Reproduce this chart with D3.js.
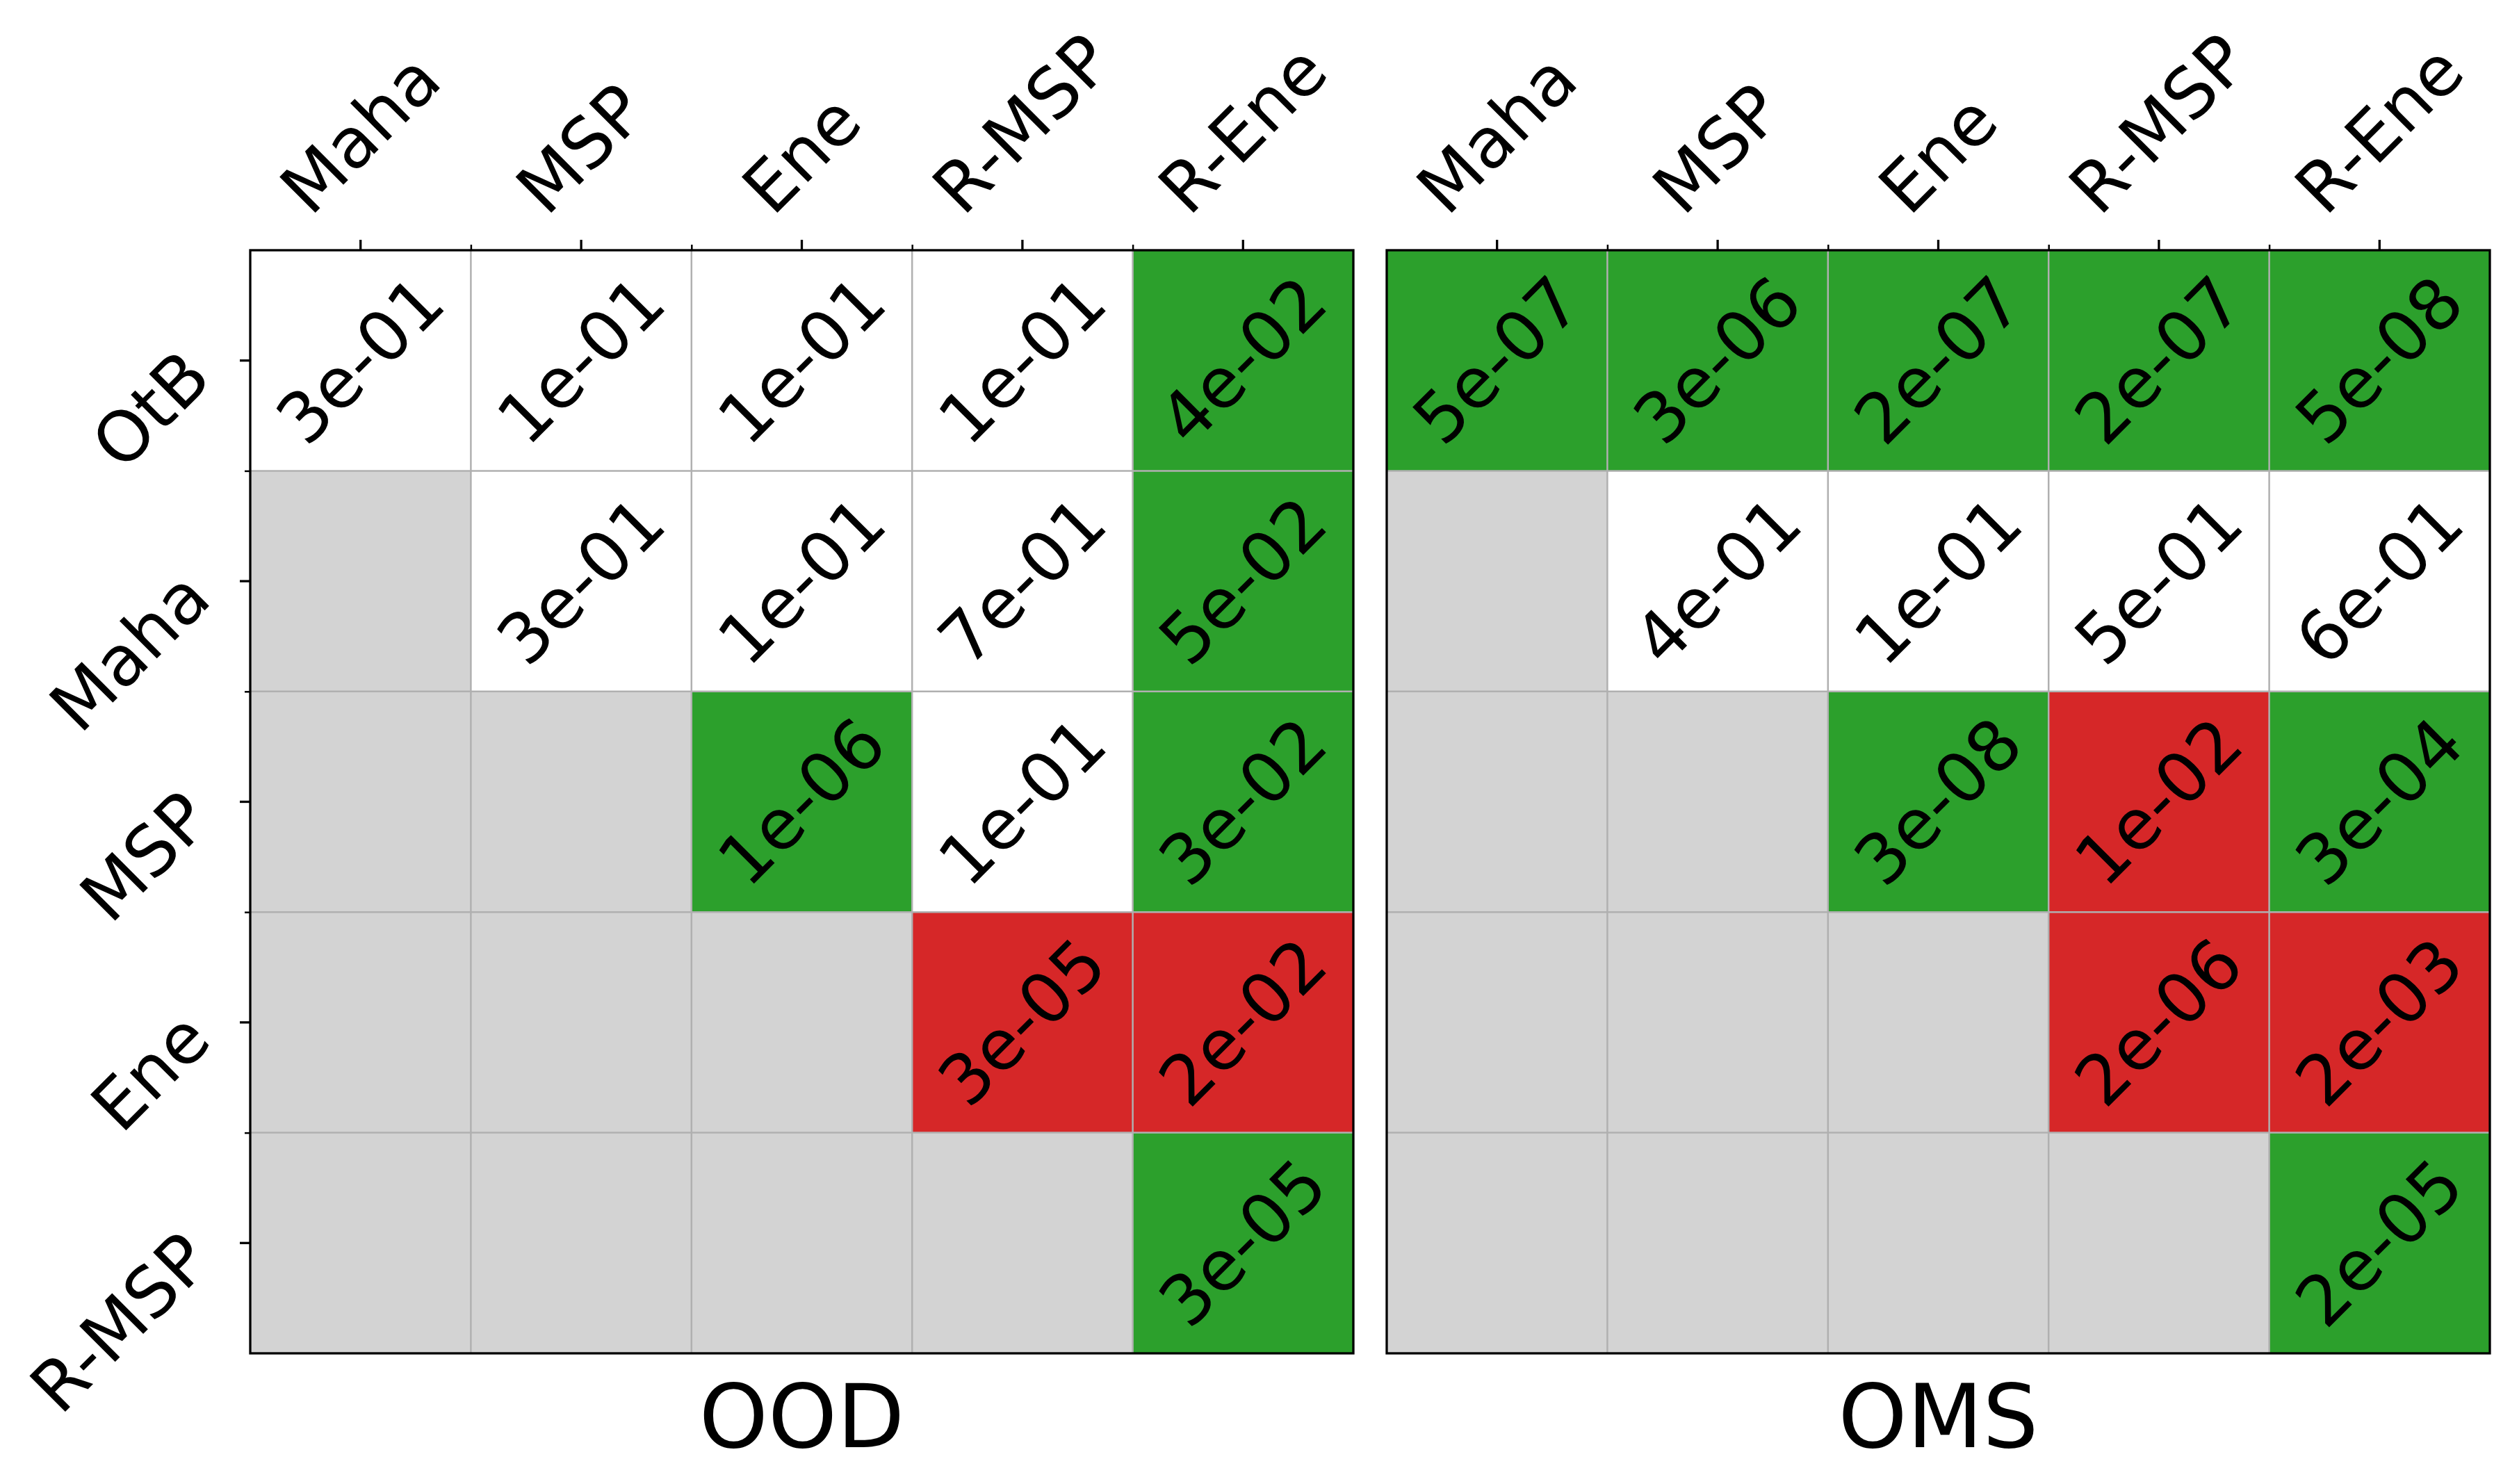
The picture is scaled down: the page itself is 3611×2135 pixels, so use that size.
<!DOCTYPE html>
<html>
<head>
<meta charset="utf-8">
<script src="https://cdn.jsdelivr.net/npm/d3@7"></script>
<style>
  html, body { margin: 0; padding: 0; background: #ffffff; }
  svg { display: block; }
  text { font-family: "DejaVu Sans", sans-serif; fill: #000; }
</style>
</head>
<body>
<svg id="chart" width="3611" height="2135"></svg>
<script>
// ---------------- data ----------------
const rowLabels = ["OtB", "Maha", "MSP", "Ene", "R-MSP"];
const colLabels = ["Maha", "MSP", "Ene", "R-MSP", "R-Ene"];
const panelTitles = ["OOD", "OMS"];

// p-values as shown (null = lower triangle, not tested)
const oodValues = [
  ["3e-01", "1e-01", "1e-01", "1e-01", "4e-02"],
  [null,    "3e-01", "1e-01", "7e-01", "5e-02"],
  [null,    null,    "1e-06", "1e-01", "3e-02"],
  [null,    null,    null,    "3e-05", "2e-02"],
  [null,    null,    null,    null,    "3e-05"]
];
// 1 = significant, column better (green); -1 = significant, row better (red); 0 = not significant
const oodSigns = [
  [0, 0, 0, 0, 1],
  [null, 0, 0, 0, 1],
  [null, null, 1, 0, 1],
  [null, null, null, -1, -1],
  [null, null, null, null, 1]
];
const omsValues = [
  ["5e-07", "3e-06", "2e-07", "2e-07", "5e-08"],
  [null,    "4e-01", "1e-01", "5e-01", "6e-01"],
  [null,    null,    "3e-08", "1e-02", "3e-04"],
  [null,    null,    null,    "2e-06", "2e-03"],
  [null,    null,    null,    null,    "2e-05"]
];
const omsSigns = [
  [1, 1, 1, 1, 1],
  [null, 0, 0, 0, 0],
  [null, null, 1, -1, 1],
  [null, null, null, -1, -1],
  [null, null, null, null, 1]
];

// ---------------- layout ----------------
const svg = d3.select("#chart");
const panelTop = 360, panelSize = 1587;
const panelLefts = [360, 1995];
const colorFor = s => s === null ? "#d3d3d3" : (s === 1 ? "#2ca02c" : (s === -1 ? "#d62728" : "#ffffff"));
const tickFont = 100, annFont = 100, titleFont = 126;

const panels = [
  { title: panelTitles[0], values: oodValues, signs: oodSigns, x0: panelLefts[0], showY: true },
  { title: panelTitles[1], values: omsValues, signs: omsSigns, x0: panelLefts[1], showY: false }
];

panels.forEach(p => {
  const x = d3.scaleBand().domain(colLabels).range([p.x0, p.x0 + panelSize]).padding(0);
  const y = d3.scaleBand().domain(rowLabels).range([panelTop, panelTop + panelSize]).padding(0);
  const xb = d3.scaleLinear().domain([0, colLabels.length]).range([p.x0, p.x0 + panelSize]);
  const yb = d3.scaleLinear().domain([0, rowLabels.length]).range([panelTop, panelTop + panelSize]);
  const g = svg.append("g");

  // cells
  const cells = [];
  rowLabels.forEach((r, i) => colLabels.forEach((c, j) => {
    cells.push({ r, c, v: p.values[i][j], s: p.signs[i][j] });
  }));
  g.selectAll("rect.cell").data(cells).join("rect")
    .attr("class", "cell")
    .attr("x", d => x(d.c)).attr("y", d => y(d.r))
    .attr("width", x.bandwidth()).attr("height", y.bandwidth())
    .attr("fill", d => colorFor(d.s));

  // grid lines at cell boundaries
  const innerX = d3.range(1, colLabels.length);
  const innerY = d3.range(1, rowLabels.length);
  g.selectAll("line.vg").data(innerX).join("line")
    .attr("x1", d => xb(d)).attr("x2", d => xb(d))
    .attr("y1", panelTop).attr("y2", panelTop + panelSize)
    .attr("stroke", "#b0b0b0").attr("stroke-width", 2.5);
  g.selectAll("line.hg").data(innerY).join("line")
    .attr("y1", d => yb(d)).attr("y2", d => yb(d))
    .attr("x1", p.x0).attr("x2", p.x0 + panelSize)
    .attr("stroke", "#b0b0b0").attr("stroke-width", 2.5);

  // annotations
  g.selectAll("text.ann").data(cells.filter(d => d.v !== null)).join("text")
    .attr("class", "ann")
    .attr("font-size", annFont)
    .attr("text-anchor", "middle")
    .attr("dominant-baseline", "central")
    .attr("transform", d => `translate(${x(d.c) + x.bandwidth() / 2},${y(d.r) + y.bandwidth() / 2}) rotate(-45)`)
    .text(d => d.v);

  // major top ticks (cell centres)
  const topAxis = d3.axisTop(x).tickSize(15).tickFormat("").tickSizeOuter(0);
  const ta = g.append("g").attr("transform", `translate(0,${panelTop})`).call(topAxis);
  ta.select(".domain").remove();
  ta.selectAll("line").attr("stroke", "#000").attr("stroke-width", 3.3);
  // minor top ticks (inner cell boundaries)
  const topMinor = d3.axisTop(xb).tickValues(innerX).tickSize(8).tickFormat("");
  const tm = g.append("g").attr("transform", `translate(0,${panelTop})`).call(topMinor);
  tm.select(".domain").remove();
  tm.selectAll("line").attr("stroke", "#000").attr("stroke-width", 2.5);

  // x tick labels, rotated 45°, bbox centred on the tick
  colLabels.forEach(c => {
    const t = g.append("text")
      .attr("font-size", tickFont)
      .attr("text-anchor", "middle")
      .attr("dominant-baseline", "central")
      .text(c);
    const bb = t.node().getBBox();
    const rh = (bb.width + bb.height) * Math.SQRT1_2;
    const cx = x(c) + x.bandwidth() / 2;
    const cy = panelTop - 30 - rh / 2;
    t.attr("transform", `translate(${cx},${cy}) rotate(-45)`);
  });

  if (p.showY) {
    const leftAxis = d3.axisLeft(y).tickSize(15).tickFormat("").tickSizeOuter(0);
    const la = g.append("g").attr("transform", `translate(${p.x0},0)`).call(leftAxis);
    la.select(".domain").remove();
    la.selectAll("line").attr("stroke", "#000").attr("stroke-width", 3.3);
    const leftMinor = d3.axisLeft(yb).tickValues(innerY).tickSize(8).tickFormat("");
    const lm = g.append("g").attr("transform", `translate(${p.x0},0)`).call(leftMinor);
    lm.select(".domain").remove();
    lm.selectAll("line").attr("stroke", "#000").attr("stroke-width", 2.5);

    g.selectAll("text.ylab").data(rowLabels).join("text")
      .attr("class", "ylab")
      .attr("font-size", tickFont)
      .attr("text-anchor", "end")
      .attr("dominant-baseline", "central")
      .attr("transform", d => `translate(${p.x0 - 77},${y(d) + y.bandwidth() / 2 + 5}) rotate(-45)`)
      .text(d => d);
  }

  // frame
  g.append("rect")
    .attr("x", p.x0).attr("y", panelTop)
    .attr("width", panelSize).attr("height", panelSize)
    .attr("fill", "none").attr("stroke", "#000").attr("stroke-width", 3.3);

  // panel title below
  g.append("text")
    .attr("x", p.x0 + panelSize / 2)
    .attr("y", 2082)
    .attr("font-size", titleFont)
    .attr("text-anchor", "middle")
    .text(p.title);
});
</script>
</body>
</html>
